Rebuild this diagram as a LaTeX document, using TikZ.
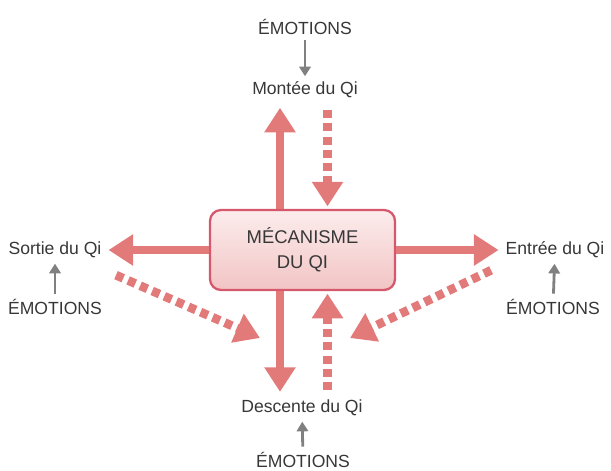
\documentclass[tikz,border=0pt]{standalone}
\usepackage{fontspec}
\setmainfont{Liberation Sans}
\usetikzlibrary{arrows.meta}

\definecolor{qiarrow}{RGB}{226,122,122}
\definecolor{qiborder}{RGB}{214,88,108}
\definecolor{qitop}{RGB}{252,236,236}
\definecolor{qibottom}{RGB}{242,196,196}
\definecolor{qitext}{RGB}{55,55,55}
\definecolor{qigray}{RGB}{128,128,128}

\tikzset{
  label/.style={text=qitext,font=\fontsize{10}{12}\selectfont,inner sep=1pt},
  mecabox/.style={draw=qiborder,line width=1.3pt,rounded corners=0.22cm,
    top color=qitop,bottom color=qibottom,minimum width=3.7cm,minimum height=1.6cm,
    align=center,text=qitext,font=\fontsize{10.5}{14}\selectfont},
  flow/.style={draw=qiarrow,line width=4.5pt,-{Triangle[width=17pt,length=14pt]}},
  dflow/.style={flow,line width=5pt,dash pattern=on 4.5pt off 3pt},
  emo/.style={draw=qigray,line width=1.6pt,shorten <=2pt,shorten >=2pt,
    -{Triangle[width=6.5pt,length=5.5pt]}}
}

\begin{document}
\begin{tikzpicture}
    \useasboundingbox (0,0) rectangle (12.22,-9.4);
    % centre
    \node[mecabox] (meca) at (6.05,-5.0) {MÉCANISME\\DU QI};
    % texts
    \node[label] (emoN) at (6.1,-0.54) {ÉMOTIONS};
    \node[label] (montee) at (6.1,-1.8) {Montée du Qi};
    \node[label] (sortie) at (1.1,-5.0) {Sortie du Qi};
    \node[label] (emoW) at (1.1,-6.14) {ÉMOTIONS};
    \node[label] (entree) at (11.1,-5.0) {Entrée du Qi};
    \node[label] (emoE) at (11.06,-6.14) {ÉMOTIONS};
    \node[label] (descente) at (6.04,-8.16) {Descente du Qi};
    \node[label] (emoS) at (6.06,-9.2) {ÉMOTIONS};
    % ends of the slanted arrows
    \coordinate (tipW) at (5.2,-6.76);
    \coordinate (tipE) at (7.0,-6.76);
    % vertical arrows
    \draw[flow] ([xshift=-0.45cm]meca.north) -- ([xshift=-0.45cm,yshift=-0.15cm]meca.north |- montee.south);
    \draw[dflow] ([xshift=0.5cm,yshift=-0.2cm]meca.north |- montee.south) -- ([xshift=0.5cm,yshift=0.05cm]meca.north);
    \draw[flow] ([xshift=-0.45cm]meca.south) -- ([xshift=-0.45cm,yshift=0.12cm]meca.south |- descente.north);
    \draw[dflow] ([xshift=0.5cm,yshift=0.16cm]meca.south |- descente.north) -- ([xshift=0.5cm,yshift=-0.05cm]meca.south);
    % horizontal arrows
    \draw[flow] (meca.west) -- ([xshift=0.1cm]sortie.east);
    \draw[flow] (meca.east) -- ([xshift=-0.1cm]entree.west);
    % slanted arrows
    \draw[dflow] ([xshift=0.25cm,yshift=-0.3cm]sortie.south east) -- (tipW);
    \draw[dflow] ([xshift=-0.25cm,yshift=-0.2cm]entree.south west) -- (tipE);
    % emotions
    \draw[emo] (emoN) -- (montee);
    \draw[emo] (emoW) -- (sortie);
    \draw[emo] (emoE) -- (entree);
    \draw[emo] (emoS) -- (descente);
\end{tikzpicture}
\end{document}
